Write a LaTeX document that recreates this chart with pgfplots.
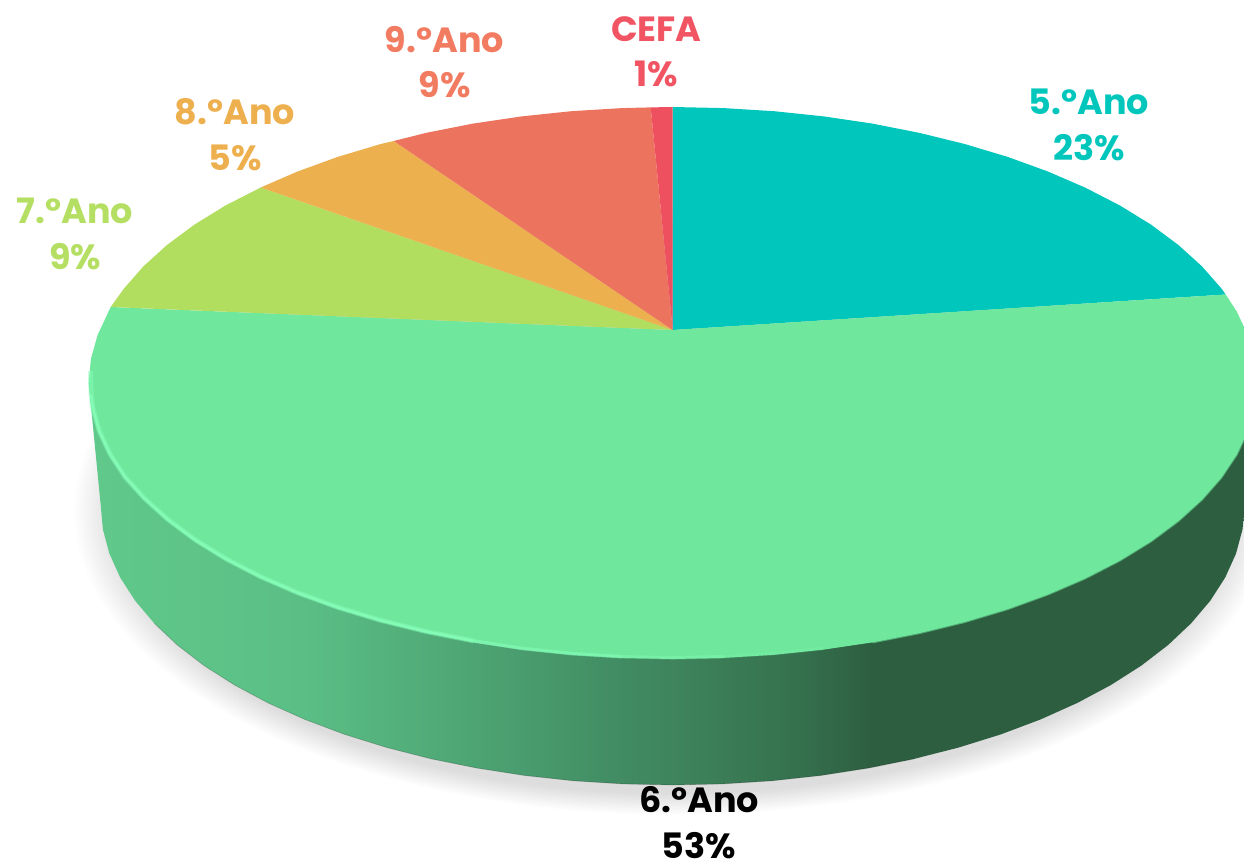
\documentclass[border=0pt]{standalone}
\usepackage{fontspec}
\setmainfont{Poppins}
\usepackage{pgfplots}
\pgfplotsset{compat=1.18}
\definecolor{cFive}{HTML}{00C6BC}
\definecolor{cSix}{HTML}{6FE89D}
\definecolor{cSeven}{HTML}{B2DE60}
\definecolor{cEight}{HTML}{ECB04F}
\definecolor{cNine}{HTML}{EC745E}
\definecolor{cCefa}{HTML}{EE5060}
\definecolor{lFive}{HTML}{00C6BC}
\definecolor{lSeven}{HTML}{B5DF63}
\definecolor{lEight}{HTML}{EEB04F}
\definecolor{lNine}{HTML}{F27C61}
\definecolor{lCefa}{HTML}{F15563}
\definecolor{rim}{HTML}{88FFBC}
\definecolor{wa}{HTML}{60C88A}
\definecolor{wb}{HTML}{5BBF85}
\definecolor{wc}{HTML}{4FA876}
\definecolor{wd}{HTML}{438F65}
\definecolor{we}{HTML}{3C8059}
\definecolor{wf}{HTML}{35704D}
\definecolor{wg}{HTML}{2D5E40}
\definecolor{sg}{HTML}{DDDDDD}
\definecolor{sm}{HTML}{EEEEEE}
\pgfdeclarehorizontalshading{wall}{100bp}{color(0bp)=(wa); color(25.5bp)=(wa); color(34.1bp)=(wb); color(40.5bp)=(wc); color(46.9bp)=(wd); color(51.2bp)=(we); color(55.5bp)=(wf); color(58.5bp)=(wg); color(100bp)=(wg)}
\pgfdeclareradialshading{softshadow}{\pgfpoint{0bp}{0bp}}{color(0bp)=(sg); color(23.2bp)=(sg); color(24.1bp)=(sm); color(25bp)=(white); color(50bp)=(white)}
\begin{document}
\begin{tikzpicture}
\path[use as bounding box] (0,0) rectangle (1244pt,861pt);
\begin{axis}[
  at={(0,0)}, anchor=south west,
  scale only axis, width=1244pt, height=861pt,
  xmin=-0.7, xmax=1243.3, ymin=0, ymax=861, y dir=reverse,
  hide axis,
]
% soft shadow under the pie
\addplot[draw=none, shading=softshadow, forget plot] coordinates {(72,205) (1272,205) (1272,815) (72,815) (72,205)};
% side wall
\addplot[draw=none, shading=wall, forget plot] coordinates {
(88,383) (100,505) (102.2,529.4) (108.7,553.6) (119.5,577.5) (134.5,600.8) (153.6,623.3) (176.6,645) (203.4,665.6) (233.8,685) (267.5,703) (304.3,719.5) (343.9,734.4) (386,747.5) (430.3,758.8) (476.4,768.1) (524,775.5) (572.7,780.8) (622.1,783.9) (672,785) (721.9,783.9) (771.3,780.8) (820,775.5) (867.6,768.1) (913.7,758.8) (958,747.5) (1000.1,734.4) (1039.7,719.5) (1076.5,703) (1110.2,685) (1140.6,665.6) (1167.4,645) (1190.4,623.3) (1209.5,600.8) (1224.5,577.5) (1235.3,553.6) (1241.8,529.4) (1244,505) (1256,383) (88,383)};
% dark lip of the wall's lower edge
\addplot[color=black, opacity=0.18, line width=0.8pt, forget plot] coordinates {
(153.6,623.3) (176.6,645) (203.4,665.6) (233.8,685) (267.5,703) (304.3,719.5) (343.9,734.4) (386,747.5) (430.3,758.8) (476.4,768.1) (524,775.5) (572.7,780.8) (622.1,783.9) (672,785) (721.9,783.9) (771.3,780.8) (820,775.5) (867.6,768.1) (913.7,758.8)};
% 5.o Ano
\addplot[draw=none, fill=cFive, forget plot] coordinates {
(672,330) (672,107) (722.9,108.1) (773.4,111.2) (823.1,116.4) (871.7,123.6) (918.8,132.9) (964,144) (1007,156.9) (1047.4,171.6) (1084.9,187.8) (1119.4,205.6) (1150.4,224.7) (1177.7,245) (1201.3,266.4) (1220.8,288.6) (1225,294.5) (672,330)};
% soft dark-side edge of the top face
\addplot[color=cSix!55!wg, line width=2pt, forget plot] coordinates {
(1256,383) (1253.8,407.1) (1247.1,430.9) (1236.1,454.4) (1220.8,477.4) (1201.3,499.6) (1177.7,521) (1150.4,541.3) (1119.4,560.4) (1084.9,578.2) (1047.4,594.4) (1007,609.1) (964,622) (918.8,633.1) (871.7,642.4)};
% 6.o Ano
\addplot[draw=none, fill=cSix, forget plot] coordinates {
(672,330) (1225,294.5) (1236.1,311.6) (1247.1,335.1) (1253.8,358.9) (1256,383) (1253.8,407.1) (1247.1,430.9) (1236.1,454.4) (1220.8,477.4) (1201.3,499.6) (1177.7,521) (1150.4,541.3) (1119.4,560.4) (1084.9,578.2) (1047.4,594.4) (1007,609.1) (964,622) (918.8,633.1) (871.7,642.4) (823.1,649.6) (773.4,654.8) (722.9,657.9) (672,659) (621.1,657.9) (570.6,654.8) (520.9,649.6) (472.3,642.4) (425.2,633.1) (380,622) (337,609.1) (296.6,594.4) (259.1,578.2) (224.6,560.4) (193.6,541.3) (166.3,521) (142.7,499.6) (123.2,477.4) (107.9,454.4) (96.9,430.9) (90.2,407.1) (88,383) (90.2,358.9) (96.9,335.1) (110,307) (672,330)};
% 7.o Ano
\addplot[draw=none, fill=cSeven, forget plot] coordinates {
(672,330) (110,307) (123.2,288.6) (142.7,266.4) (166.3,245) (193.6,224.7) (224.6,205.6) (260,187.5) (672,330)};
% 8.o Ano
\addplot[draw=none, fill=cEight, forget plot] coordinates {
(672,330) (260,187.5) (296.6,171.6) (337,156.9) (380,144) (393,141) (672,330)};
% 9.o Ano
\addplot[draw=none, fill=cNine, forget plot] coordinates {
(672,330) (393,141) (425.2,132.9) (472.3,123.6) (520.9,116.4) (570.6,111.2) (621.1,108.1) (650,107.4) (672,330)};
% CEFA
\addplot[draw=none, fill=cCefa, forget plot] coordinates {
(672,330) (650,107.4) (672,107) (672,330)};
% rim highlight, strong on the left and fading towards the bottom right
\addplot[rim, opacity=0.45, line width=5pt, line join=round, forget plot] coordinates {
(89.7,371) (90.5,395) (92,407.1) (98.5,430.9) (109.5,454.4) (124.6,477.4) (143.9,498.5) (167.4,519.6) (194.5,539.8) (225.4,558.9) (259.8,576.6) (297.2,592.8) (337.4,607.4) (380.4,620.4) (425.4,631.5) (472.5,640.8)};
\addplot[rim, opacity=0.75, line width=2.2pt, line join=round, forget plot] coordinates {
(90.5,395) (92,407.1) (98.5,430.9) (109.5,454.4) (124.6,477.4) (143.9,498.5) (167.4,519.6) (194.5,539.8) (225.4,558.9) (259.8,576.6) (297.2,592.8) (337.4,607.4) (380.4,620.4) (425.4,631.5) (472.5,640.8)};
\addplot[rim, opacity=0.55, line width=3.5pt, line join=round, forget plot] coordinates {
(472.5,640.8) (521,648.4) (570.7,653.6) (621.1,656.7)};
\addplot[rim, opacity=0.32, line width=3.5pt, line join=round, forget plot] coordinates {
(621.1,656.7) (672,657.8) (722.9,656.7)};
\addplot[rim, opacity=0.15, line width=3.5pt, line join=round, forget plot] coordinates {
(722.9,656.7) (773.4,653.6) (823.1,648.4)};
\end{axis}
\begin{scope}[every node/.style={inner sep=0pt, align=center, font=\fontsize{35}{45.5}\selectfont\bfseries}]
\node[text=lFive] at (1089pt,{861pt-125pt}) {5.ºAno\\23\%};
\node[text=black] at (699pt,{861pt-822.5pt}) {6.ºAno\\53\%};
\node[text=lSeven] at (75pt,{861pt-234pt}) {7.ºAno\\9\%};
\node[text=lEight] at (235pt,{861pt-134.5pt}) {8.ºAno\\5\%};
\node[text=lNine] at (444.5pt,{861pt-62pt}) {9.ºAno\\9\%};
\node[text=lCefa] at (656.5pt,{861pt-52pt}) {CEFA\\1\%};
\end{scope}
\end{tikzpicture}
\end{document}
